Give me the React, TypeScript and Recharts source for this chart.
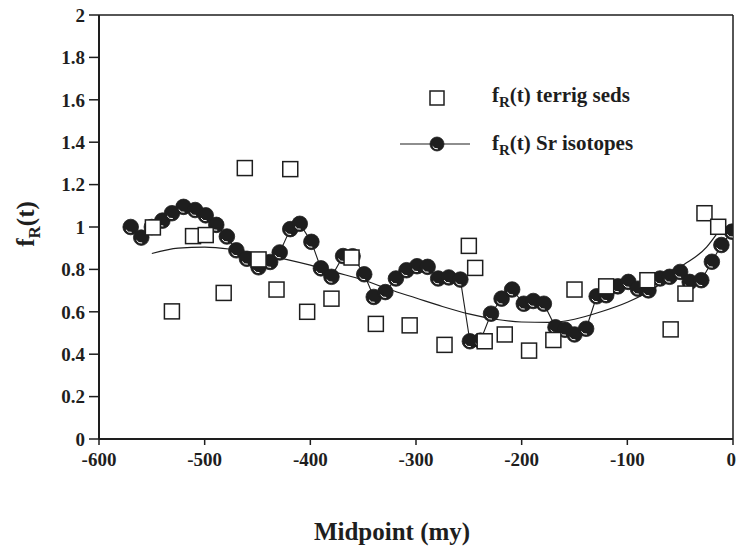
import {
    ComposedChart,
    Line,
    Scatter,
    XAxis,
    YAxis,
    ReferenceLine,
    Label,
} from "recharts";

// Sr isotope curve (filled circles, joined)
const srAge = [
    -570, -560, -550, -540, -531, -520, -509, -499, -489, -479, -470, -460, -449, -438, -429,
    -419, -410, -399, -390, -380, -369, -360, -349, -340, -329, -319, -309, -299, -289, -279,
    -269, -258, -249, -239, -229, -219, -209, -198, -189, -179, -168, -159, -150, -139, -129,
    -120, -109, -99, -90, -80, -69, -60, -50, -41, -30, -20, -11, -1,
];
const srF = [
    1.0, 0.95, 1.0, 1.03, 1.065, 1.095, 1.08, 1.055, 1.01, 0.955, 0.89, 0.85, 0.81, 0.835, 0.88,
    0.99, 1.015, 0.93, 0.805, 0.765, 0.863, 0.862, 0.777, 0.67, 0.693, 0.757, 0.796, 0.815, 0.812, 0.757,
    0.762, 0.752, 0.461, 0.464, 0.591, 0.662, 0.705, 0.638, 0.651, 0.638, 0.527, 0.515, 0.493, 0.52, 0.673,
    0.678, 0.72, 0.741, 0.709, 0.701, 0.757, 0.765, 0.788, 0.741, 0.749, 0.836, 0.915, 0.978,
];

// terrigenous sediments (open squares)
const tsAge = [
    -549, -531, -511, -499, -482, -462, -449, -432, -419, -403, -380, -361, -338, -306,
    -273, -250, -244, -235, -216, -193, -170, -150, -120, -81, -59, -45, -27, -14,
];
const tsF = [
    0.998, 0.602, 0.957, 0.962, 0.689, 1.278, 0.847, 0.705, 1.273, 0.6, 0.662, 0.856, 0.543, 0.536,
    0.444, 0.911, 0.807, 0.461, 0.493, 0.417, 0.467, 0.705, 0.72, 0.749, 0.517, 0.686, 1.065, 1.001,
];

// smooth trend through the Sr data
const trendAge = [-550, -525, -500, -475, -450, -425, -400, -375, -350, -325, -300, -275, -250, -225, -200, -175, -150, -125, -100, -75, -50, -25, -15];
const trendF = [0.875, 0.9, 0.905, 0.895, 0.875, 0.85, 0.82, 0.785, 0.75, 0.705, 0.665, 0.625, 0.59, 0.565, 0.552, 0.55, 0.565, 0.6, 0.645, 0.71, 0.81, 0.905, 0.97];

const xTicks = [-600, -500, -400, -300, -200, -100, 0];
const yTicks = [0, 0.2, 0.4, 0.6, 0.8, 1, 1.2, 1.4, 1.6, 1.8, 2];

const srData = srAge.map((x, i) => ({ x, y: srF[i] }));
const tsData = tsAge.map((x, i) => ({ x, y: tsF[i] }));
const trendData = trendAge.map((x, i) => ({ x, y: trendF[i] }));

const ink = "#1e1e1e";
const serif = "'Liberation Serif', 'Times New Roman', serif";
const tickStyle = { fill: ink, fontFamily: serif, fontWeight: 700, fontSize: 19 };

function Ball({ cx, cy, r = 7.8 }: { cx: number; cy: number; r?: number }) {
    const a = r * 0.7;
    return (
        <g>
            <circle cx={cx} cy={cy} r={r} fill={ink} stroke={ink} strokeWidth={0.8} />
            <path
                d={`M ${cx - a * 0.87} ${cy + a * 0.5} A ${a} ${a} 0 0 0 ${cx + a * 0.17} ${cy + a * 0.98}`}
                fill="none"
                stroke="#fff"
                strokeWidth={1}
            />
        </g>
    );
}

const renderDot = (p: any) => <Ball key={`sr-${p.index}`} cx={p.cx} cy={p.cy} />;

const renderSquare = (p: any) => (
    <rect x={p.cx - 7.5} y={p.cy - 7.5} width={15} height={15} fill="#fff" stroke={ink} strokeWidth={1.5} />
);

function LegendBox() {
    return (
        <svg width={280} height={90} style={{ display: "block" }}>
            <rect x={35} y={11} width={14} height={14} fill="#fff" stroke={ink} strokeWidth={1.5} />
            <text x={97} y={22} fill={ink} fontFamily={serif} fontWeight={700} fontSize={21}>
                f<tspan fontSize={15} dy={5}>R</tspan>
                <tspan dy={-5}>(t) terrig seds</tspan>
            </text>
            <line x1={5} x2={75} y1={64} y2={64} stroke={ink} strokeWidth={1.2} />
            <Ball cx={42} cy={64} r={7} />
            <text x={97} y={70} fill={ink} fontFamily={serif} fontWeight={700} fontSize={21}>
                f<tspan fontSize={15} dy={5}>R</tspan>
                <tspan dy={-5}>(t) Sr isotopes</tspan>
            </text>
        </svg>
    );
}

export default function App() {
    return (
        <div style={{ position: "absolute", left: 0, top: 0, width: 736, height: 549, background: "#fff" }}>
            <ComposedChart width={736} height={549} margin={{ top: 15, right: 3, bottom: 0, left: 0 }}>
                <XAxis
                    dataKey="x"
                    type="number"
                    domain={[-600, 0]}
                    ticks={xTicks}
                    allowDataOverflow
                    height={110}
                    tick={tickStyle}
                    tickSize={6}
                    tickMargin={8}
                    axisLine={{ stroke: ink, strokeWidth: 2 }}
                    tickLine={{ stroke: ink, strokeWidth: 1.5 }}
                >
                    <Label
                        content={({ viewBox }: any) => (
                            <text
                                x={viewBox.x + viewBox.width / 2 - 24}
                                y={540}
                                textAnchor="middle"
                                fill={ink}
                                fontFamily={serif}
                                fontWeight={700}
                                fontSize={25}
                            >
                                Midpoint (my)
                            </text>
                        )}
                    />
                </XAxis>
                <YAxis
                    type="number"
                    domain={[0, 2]}
                    ticks={yTicks}
                    width={99}
                    tick={tickStyle}
                    tickSize={10}
                    tickMargin={4}
                    axisLine={{ stroke: ink, strokeWidth: 2 }}
                    tickLine={{ stroke: ink, strokeWidth: 1.5 }}
                >
                    <Label
                        content={() => (
                            <text
                                x={34}
                                y={224}
                                transform="rotate(-90, 34, 224)"
                                textAnchor="middle"
                                fill={ink}
                                fontFamily={serif}
                                fontWeight={700}
                                fontSize={25}
                            >
                                f<tspan fontSize={17} dy={6}>R</tspan>
                                <tspan dy={-6}>(t)</tspan>
                            </text>
                        )}
                    />
                </YAxis>
                <ReferenceLine y={2} stroke={ink} strokeWidth={1.5} />
                <ReferenceLine x={0} stroke={ink} strokeWidth={1.5} />
                <Line
                    data={trendData}
                    dataKey="y"
                    type="monotone"
                    stroke={ink}
                    strokeWidth={1.2}
                    dot={false}
                    activeDot={false}
                    isAnimationActive={false}
                />
                <Line
                    data={srData}
                    dataKey="y"
                    type="linear"
                    stroke={ink}
                    strokeWidth={1.1}
                    dot={renderDot}
                    activeDot={false}
                    isAnimationActive={false}
                />
                <Scatter data={tsData} dataKey="y" shape={renderSquare} isAnimationActive={false} />
            </ComposedChart>
            <div style={{ position: "absolute", left: 395, top: 80 }}>
                <LegendBox />
            </div>
        </div>
    );
}
